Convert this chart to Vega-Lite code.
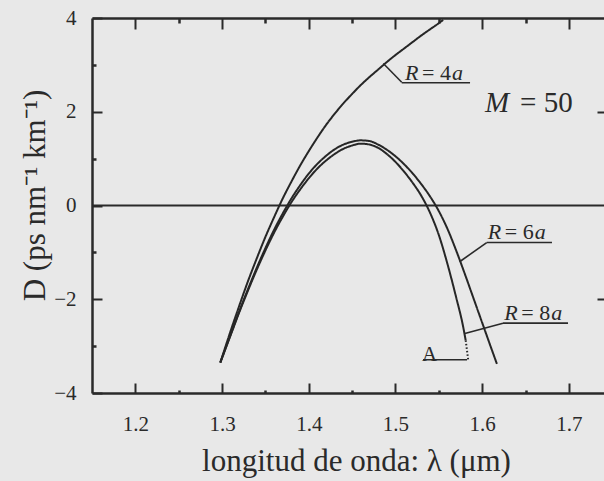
{
  "$schema": "https://vega.github.io/schema/vega-lite/v6.json",
  "width": 512,
  "height": 375,
  "autosize": {"type": "none"},
  "padding": {"left": 92, "top": 18, "right": 0, "bottom": 88},
  "background": "#e8e8e8",
  "config": {"view": {"stroke": null}, "font": "Liberation Serif"},
  "datasets": {
    "curvas": [
      {"serie": "R = 4a", "trazo": "continuo", "lambda": 1.298, "D": -3.35},
      {"serie": "R = 4a", "trazo": "continuo", "lambda": 1.31, "D": -2.67},
      {"serie": "R = 4a", "trazo": "continuo", "lambda": 1.32, "D": -2.13},
      {"serie": "R = 4a", "trazo": "continuo", "lambda": 1.33, "D": -1.61},
      {"serie": "R = 4a", "trazo": "continuo", "lambda": 1.34, "D": -1.13},
      {"serie": "R = 4a", "trazo": "continuo", "lambda": 1.35, "D": -0.67},
      {"serie": "R = 4a", "trazo": "continuo", "lambda": 1.36, "D": -0.25},
      {"serie": "R = 4a", "trazo": "continuo", "lambda": 1.37, "D": 0.15},
      {"serie": "R = 4a", "trazo": "continuo", "lambda": 1.38, "D": 0.51},
      {"serie": "R = 4a", "trazo": "continuo", "lambda": 1.39, "D": 0.85},
      {"serie": "R = 4a", "trazo": "continuo", "lambda": 1.40, "D": 1.16},
      {"serie": "R = 4a", "trazo": "continuo", "lambda": 1.41, "D": 1.45},
      {"serie": "R = 4a", "trazo": "continuo", "lambda": 1.42, "D": 1.72},
      {"serie": "R = 4a", "trazo": "continuo", "lambda": 1.43, "D": 1.96},
      {"serie": "R = 4a", "trazo": "continuo", "lambda": 1.44, "D": 2.18},
      {"serie": "R = 4a", "trazo": "continuo", "lambda": 1.45, "D": 2.38},
      {"serie": "R = 4a", "trazo": "continuo", "lambda": 1.46, "D": 2.57},
      {"serie": "R = 4a", "trazo": "continuo", "lambda": 1.47, "D": 2.74},
      {"serie": "R = 4a", "trazo": "continuo", "lambda": 1.48, "D": 2.9},
      {"serie": "R = 4a", "trazo": "continuo", "lambda": 1.49, "D": 3.06},
      {"serie": "R = 4a", "trazo": "continuo", "lambda": 1.50, "D": 3.21},
      {"serie": "R = 4a", "trazo": "continuo", "lambda": 1.51, "D": 3.35},
      {"serie": "R = 4a", "trazo": "continuo", "lambda": 1.52, "D": 3.49},
      {"serie": "R = 4a", "trazo": "continuo", "lambda": 1.53, "D": 3.63},
      {"serie": "R = 4a", "trazo": "continuo", "lambda": 1.54, "D": 3.76},
      {"serie": "R = 4a", "trazo": "continuo", "lambda": 1.55, "D": 3.89},
      {"serie": "R = 4a", "trazo": "continuo", "lambda": 1.555, "D": 3.96},

      {"serie": "R = 6a", "trazo": "continuo", "lambda": 1.298, "D": -3.35},
      {"serie": "R = 6a", "trazo": "continuo", "lambda": 1.31, "D": -2.75},
      {"serie": "R = 6a", "trazo": "continuo", "lambda": 1.32, "D": -2.25},
      {"serie": "R = 6a", "trazo": "continuo", "lambda": 1.33, "D": -1.78},
      {"serie": "R = 6a", "trazo": "continuo", "lambda": 1.34, "D": -1.33},
      {"serie": "R = 6a", "trazo": "continuo", "lambda": 1.35, "D": -0.91},
      {"serie": "R = 6a", "trazo": "continuo", "lambda": 1.36, "D": -0.52},
      {"serie": "R = 6a", "trazo": "continuo", "lambda": 1.37, "D": -0.17},
      {"serie": "R = 6a", "trazo": "continuo", "lambda": 1.38, "D": 0.15},
      {"serie": "R = 6a", "trazo": "continuo", "lambda": 1.39, "D": 0.43},
      {"serie": "R = 6a", "trazo": "continuo", "lambda": 1.40, "D": 0.68},
      {"serie": "R = 6a", "trazo": "continuo", "lambda": 1.41, "D": 0.89},
      {"serie": "R = 6a", "trazo": "continuo", "lambda": 1.42, "D": 1.06},
      {"serie": "R = 6a", "trazo": "continuo", "lambda": 1.43, "D": 1.2},
      {"serie": "R = 6a", "trazo": "continuo", "lambda": 1.44, "D": 1.3},
      {"serie": "R = 6a", "trazo": "continuo", "lambda": 1.45, "D": 1.36},
      {"serie": "R = 6a", "trazo": "continuo", "lambda": 1.46, "D": 1.39},
      {"serie": "R = 6a", "trazo": "continuo", "lambda": 1.47, "D": 1.375},
      {"serie": "R = 6a", "trazo": "continuo", "lambda": 1.48, "D": 1.3},
      {"serie": "R = 6a", "trazo": "continuo", "lambda": 1.49, "D": 1.19},
      {"serie": "R = 6a", "trazo": "continuo", "lambda": 1.50, "D": 1.05},
      {"serie": "R = 6a", "trazo": "continuo", "lambda": 1.51, "D": 0.88},
      {"serie": "R = 6a", "trazo": "continuo", "lambda": 1.52, "D": 0.68},
      {"serie": "R = 6a", "trazo": "continuo", "lambda": 1.53, "D": 0.45},
      {"serie": "R = 6a", "trazo": "continuo", "lambda": 1.54, "D": 0.19},
      {"serie": "R = 6a", "trazo": "continuo", "lambda": 1.55, "D": -0.12},
      {"serie": "R = 6a", "trazo": "continuo", "lambda": 1.56, "D": -0.5},
      {"serie": "R = 6a", "trazo": "continuo", "lambda": 1.57, "D": -0.96},
      {"serie": "R = 6a", "trazo": "continuo", "lambda": 1.58, "D": -1.46},
      {"serie": "R = 6a", "trazo": "continuo", "lambda": 1.59, "D": -1.98},
      {"serie": "R = 6a", "trazo": "continuo", "lambda": 1.60, "D": -2.5},
      {"serie": "R = 6a", "trazo": "continuo", "lambda": 1.61, "D": -3.02},
      {"serie": "R = 6a", "trazo": "continuo", "lambda": 1.617, "D": -3.38},

      {"serie": "R = 8a", "trazo": "continuo", "lambda": 1.298, "D": -3.35},
      {"serie": "R = 8a", "trazo": "continuo", "lambda": 1.31, "D": -2.76},
      {"serie": "R = 8a", "trazo": "continuo", "lambda": 1.32, "D": -2.27},
      {"serie": "R = 8a", "trazo": "continuo", "lambda": 1.33, "D": -1.81},
      {"serie": "R = 8a", "trazo": "continuo", "lambda": 1.34, "D": -1.37},
      {"serie": "R = 8a", "trazo": "continuo", "lambda": 1.35, "D": -0.96},
      {"serie": "R = 8a", "trazo": "continuo", "lambda": 1.36, "D": -0.58},
      {"serie": "R = 8a", "trazo": "continuo", "lambda": 1.37, "D": -0.24},
      {"serie": "R = 8a", "trazo": "continuo", "lambda": 1.38, "D": 0.07},
      {"serie": "R = 8a", "trazo": "continuo", "lambda": 1.39, "D": 0.34},
      {"serie": "R = 8a", "trazo": "continuo", "lambda": 1.40, "D": 0.58},
      {"serie": "R = 8a", "trazo": "continuo", "lambda": 1.41, "D": 0.79},
      {"serie": "R = 8a", "trazo": "continuo", "lambda": 1.42, "D": 0.96},
      {"serie": "R = 8a", "trazo": "continuo", "lambda": 1.43, "D": 1.1},
      {"serie": "R = 8a", "trazo": "continuo", "lambda": 1.44, "D": 1.21},
      {"serie": "R = 8a", "trazo": "continuo", "lambda": 1.45, "D": 1.28},
      {"serie": "R = 8a", "trazo": "continuo", "lambda": 1.46, "D": 1.32},
      {"serie": "R = 8a", "trazo": "continuo", "lambda": 1.47, "D": 1.3},
      {"serie": "R = 8a", "trazo": "continuo", "lambda": 1.48, "D": 1.23},
      {"serie": "R = 8a", "trazo": "continuo", "lambda": 1.49, "D": 1.1},
      {"serie": "R = 8a", "trazo": "continuo", "lambda": 1.50, "D": 0.93},
      {"serie": "R = 8a", "trazo": "continuo", "lambda": 1.51, "D": 0.72},
      {"serie": "R = 8a", "trazo": "continuo", "lambda": 1.52, "D": 0.48},
      {"serie": "R = 8a", "trazo": "continuo", "lambda": 1.53, "D": 0.2},
      {"serie": "R = 8a", "trazo": "continuo", "lambda": 1.54, "D": -0.16},
      {"serie": "R = 8a", "trazo": "continuo", "lambda": 1.55, "D": -0.63},
      {"serie": "R = 8a", "trazo": "continuo", "lambda": 1.56, "D": -1.25},
      {"serie": "R = 8a", "trazo": "continuo", "lambda": 1.57, "D": -1.96},
      {"serie": "R = 8a", "trazo": "continuo", "lambda": 1.578, "D": -2.58},
      {"serie": "R = 8a", "trazo": "continuo", "lambda": 1.581, "D": -2.88},
      {"serie": "R = 8a", "trazo": "punteado", "lambda": 1.581, "D": -2.88},
      {"serie": "R = 8a", "trazo": "punteado", "lambda": 1.584, "D": -3.31}
    ],
    "guias": [
      {"nota": "R = 4a", "x0": 1.486, "y0": 3.03, "x1": 1.5072, "y1": 2.63},
      {"nota": "R = 4a", "x0": 1.5072, "y0": 2.62, "x1": 1.586, "y1": 2.62},
      {"nota": "R = 6a", "x0": 1.574, "y0": -1.2, "x1": 1.6052, "y1": -0.79},
      {"nota": "R = 6a", "x0": 1.6052, "y0": -0.79, "x1": 1.6805, "y1": -0.79},
      {"nota": "R = 8a", "x0": 1.58, "y0": -2.73, "x1": 1.624, "y1": -2.51},
      {"nota": "R = 8a", "x0": 1.624, "y0": -2.51, "x1": 1.699, "y1": -2.51},
      {"nota": "A", "x0": 1.5318, "y0": -3.29, "x1": 1.5825, "y1": -3.29}
    ],
    "rotulos": [
      {"nota": "R = 4a", "igual": "= 4", "x": 1.511, "y": 2.68},
      {"nota": "R = 6a", "igual": "= 6", "x": 1.6065, "y": -0.72},
      {"nota": "R = 8a", "igual": "= 8", "x": 1.6255, "y": -2.45}
    ],
    "parametro": [
      {"simbolo": "M", "valor": "= 50", "x": 1.6033, "y": 1.99}
    ],
    "punto": [
      {"texto": "A", "x": 1.5306, "y": -3.31}
    ],
    "cero": [
      {"D": 0}
    ]
  },
  "layer": [
    {
      "data": {"name": "cero"},
      "mark": {"type": "rule", "color": "#2a2a2a", "strokeWidth": 1.8},
      "encoding": {
        "y": {"field": "D", "type": "quantitative", "scale": {"domain": [-4, 4], "nice": false, "zero": false}, "axis": null}
      }
    },
    {
      "data": {"name": "curvas"},
      "mark": {"type": "line", "color": "#262626", "strokeWidth": 2, "interpolate": "monotone"},
      "encoding": {
        "x": {
          "field": "lambda", "type": "quantitative",
          "scale": {"domain": [1.15, 1.7405], "nice": false, "zero": false},
          "axis": {
            "orient": "bottom",
            "values": [1.2, 1.3, 1.4, 1.5, 1.6, 1.7],
            "format": ".1f",
            "tickSize": -10,
            "tickWidth": 2,
            "tickColor": "#2a2a2a",
            "domainColor": "#2a2a2a",
            "domainWidth": 2.5,
            "grid": false,
            "labelFont": "Liberation Serif",
            "labelFontSize": 21,
            "labelColor": "#2a2a2a",
            "labelBaseline": "alphabetic",
            "labelPadding": 47,
            "labelFlush": false,
            "title": "longitud de onda: λ (μm)",
            "titleFont": "Liberation Serif",
            "titleFontSize": 31,
            "titleFontWeight": "normal",
            "titleColor": "#2a2a2a",
            "titleBaseline": "alphabetic",
            "titleAlign": "center",
            "titleX": 264,
            "titleY": 77
          }
        },
        "y": {
          "field": "D", "type": "quantitative",
          "scale": {"domain": [-4, 4], "nice": false, "zero": false},
          "axis": {
            "orient": "left",
            "values": [-4, -2, 0, 2, 4],
            "tickSize": -10,
            "tickWidth": 2,
            "tickColor": "#2a2a2a",
            "domainColor": "#2a2a2a",
            "domainWidth": 2.5,
            "grid": false,
            "labelFont": "Liberation Serif",
            "labelFontSize": 21,
            "labelColor": "#2a2a2a",
            "labelPadding": 26,
            "labelFlush": false,
            "title": "D (ps nm⁻¹ km⁻¹)",
            "titleFont": "Liberation Serif",
            "titleFontSize": 31,
            "titleFontWeight": "normal",
            "titleColor": "#2a2a2a",
            "titleBaseline": "alphabetic",
            "titleAlign": "center",
            "titleAngle": 270,
            "titleX": -48,
            "titleY": 177
          }
        },
        "detail": {"field": "serie", "type": "nominal"},
        "strokeDash": {
          "field": "trazo", "type": "nominal",
          "scale": {"domain": ["continuo", "punteado"], "range": [[1, 0], [1.5, 2]]},
          "legend": null
        }
      }
    },
    {
      "data": {"name": "curvas"},
      "mark": {"type": "point", "opacity": 0},
      "encoding": {
        "x": {
          "field": "lambda", "type": "quantitative",
          "scale": {"domain": [1.15, 1.7405], "nice": false, "zero": false},
          "axis": {
            "orient": "top",
            "values": [1.2, 1.3, 1.4, 1.5, 1.6, 1.7],
            "labels": false,
            "tickSize": -11,
            "tickWidth": 2,
            "tickColor": "#2a2a2a",
            "domainColor": "#2a2a2a",
            "domainWidth": 2.5,
            "grid": false,
            "title": null
          }
        },
        "y": {
          "field": "D", "type": "quantitative",
          "scale": {"domain": [-4, 4], "nice": false, "zero": false},
          "axis": {
            "orient": "right",
            "values": [-2, 2],
            "labels": false,
            "domain": false,
            "tickSize": -7,
            "tickWidth": 2,
            "tickColor": "#2a2a2a",
            "grid": false,
            "title": null
          }
        }
      }
    },
    {
      "data": {"name": "curvas"},
      "mark": {"type": "point", "opacity": 0},
      "encoding": {
        "x": {
          "field": "lambda", "type": "quantitative",
          "scale": {"domain": [1.15, 1.7405], "nice": false, "zero": false},
          "axis": {
            "orient": "bottom",
            "values": [1.25, 1.35, 1.45, 1.55, 1.65],
            "labels": false,
            "domain": false,
            "tickSize": -3,
            "tickWidth": 2.5,
            "tickColor": "#2a2a2a",
            "grid": false,
            "title": null
          }
        },
        "y": {
          "field": "D", "type": "quantitative",
          "scale": {"domain": [-4, 4], "nice": false, "zero": false},
          "axis": {
            "orient": "left",
            "values": [-3, -1, 1, 3],
            "labels": false,
            "domain": false,
            "tickSize": -4,
            "tickWidth": 2.5,
            "tickColor": "#2a2a2a",
            "grid": false,
            "title": null
          }
        }
      }
    },
    {
      "data": {"name": "curvas"},
      "mark": {"type": "point", "opacity": 0},
      "encoding": {
        "x": {
          "field": "lambda", "type": "quantitative",
          "scale": {"domain": [1.15, 1.7405], "nice": false, "zero": false},
          "axis": {
            "orient": "top",
            "values": [1.25, 1.35, 1.45, 1.55, 1.65],
            "labels": false,
            "domain": false,
            "tickSize": -5,
            "tickWidth": 2.5,
            "tickColor": "#2a2a2a",
            "grid": false,
            "title": null
          }
        },
        "y": {
          "field": "D", "type": "quantitative",
          "scale": {"domain": [-4, 4], "nice": false, "zero": false},
          "axis": null
        }
      }
    },
    {
      "data": {"name": "guias"},
      "mark": {"type": "rule", "color": "#2a2a2a", "strokeWidth": 1.6},
      "encoding": {
        "x": {"field": "x0", "type": "quantitative", "scale": {"domain": [1.15, 1.7405], "nice": false, "zero": false}, "axis": null},
        "y": {"field": "y0", "type": "quantitative", "scale": {"domain": [-4, 4], "nice": false, "zero": false}, "axis": null},
        "x2": {"field": "x1"},
        "y2": {"field": "y1"}
      }
    },
    {
      "data": {"name": "rotulos"},
      "mark": {"type": "text", "text": "R", "font": "Liberation Serif", "fontStyle": "italic", "fontSize": 22, "align": "left", "baseline": "alphabetic", "color": "#2a2a2a"},
      "encoding": {
        "x": {"field": "x", "type": "quantitative", "scale": {"domain": [1.15, 1.7405], "nice": false, "zero": false}, "axis": null},
        "y": {"field": "y", "type": "quantitative", "scale": {"domain": [-4, 4], "nice": false, "zero": false}, "axis": null}
      }
    },
    {
      "data": {"name": "rotulos"},
      "mark": {"type": "text", "font": "Liberation Serif", "fontSize": 22, "align": "left", "baseline": "alphabetic", "dx": 17, "color": "#2a2a2a"},
      "encoding": {
        "x": {"field": "x", "type": "quantitative", "scale": {"domain": [1.15, 1.7405], "nice": false, "zero": false}, "axis": null},
        "y": {"field": "y", "type": "quantitative", "scale": {"domain": [-4, 4], "nice": false, "zero": false}, "axis": null},
        "text": {"field": "igual"}
      }
    },
    {
      "data": {"name": "rotulos"},
      "mark": {"type": "text", "text": "a", "font": "Liberation Serif", "fontStyle": "italic", "fontSize": 22, "align": "left", "baseline": "alphabetic", "dx": 47, "color": "#2a2a2a"},
      "encoding": {
        "x": {"field": "x", "type": "quantitative", "scale": {"domain": [1.15, 1.7405], "nice": false, "zero": false}, "axis": null},
        "y": {"field": "y", "type": "quantitative", "scale": {"domain": [-4, 4], "nice": false, "zero": false}, "axis": null}
      }
    },
    {
      "data": {"name": "parametro"},
      "mark": {"type": "text", "font": "Liberation Serif", "fontStyle": "italic", "fontSize": 29, "align": "left", "baseline": "alphabetic", "color": "#2a2a2a"},
      "encoding": {
        "x": {"field": "x", "type": "quantitative", "scale": {"domain": [1.15, 1.7405], "nice": false, "zero": false}, "axis": null},
        "y": {"field": "y", "type": "quantitative", "scale": {"domain": [-4, 4], "nice": false, "zero": false}, "axis": null},
        "text": {"field": "simbolo"}
      }
    },
    {
      "data": {"name": "parametro"},
      "mark": {"type": "text", "font": "Liberation Serif", "fontSize": 29, "align": "left", "baseline": "alphabetic", "dx": 35, "color": "#2a2a2a"},
      "encoding": {
        "x": {"field": "x", "type": "quantitative", "scale": {"domain": [1.15, 1.7405], "nice": false, "zero": false}, "axis": null},
        "y": {"field": "y", "type": "quantitative", "scale": {"domain": [-4, 4], "nice": false, "zero": false}, "axis": null},
        "text": {"field": "valor"}
      }
    },
    {
      "data": {"name": "punto"},
      "mark": {"type": "text", "font": "Liberation Serif", "fontSize": 21, "align": "left", "baseline": "alphabetic", "color": "#2a2a2a"},
      "encoding": {
        "x": {"field": "x", "type": "quantitative", "scale": {"domain": [1.15, 1.7405], "nice": false, "zero": false}, "axis": null},
        "y": {"field": "y", "type": "quantitative", "scale": {"domain": [-4, 4], "nice": false, "zero": false}, "axis": null},
        "text": {"field": "texto"}
      }
    }
  ],
  "resolve": {"axis": {"x": "independent", "y": "independent"}}
}
